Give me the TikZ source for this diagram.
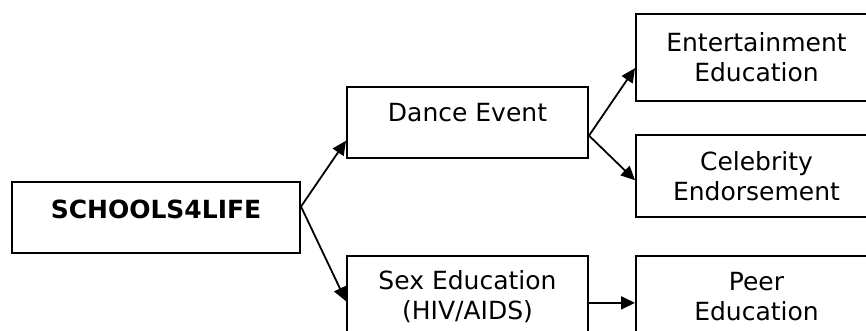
\documentclass[tikz,border=0pt]{standalone}
\usepackage{fontspec}
\setmainfont{DejaVu Sans}
\usetikzlibrary{arrows.meta,calc}

\begin{document}
\begin{tikzpicture}[x=1pt, y=-1pt, >={Triangle[length=14pt,width=13pt]}, font=\fontsize{25}{30}\selectfont,
	   b/.style={draw, line width=2pt, inner sep=0pt, minimum width=241pt, align=center},
	   a/.style={->, line width=1.8pt}]
	  \useasboundingbox (0,0) rectangle (866,331);
	  \clip (0,0) rectangle (866,331);
	  \node[b, minimum width=288pt, text height=36pt, text depth=35pt, font=\fontsize{25}{30}\selectfont\bfseries] (s4l) at (156,217.5) {SCHOOLS4LIFE};
	  \node[b, text height=35pt, text depth=36pt] (de) at (467.5,122.5) {Dance Event};
	  \node[b, minimum height=82pt] (sex) at (467.5,297) {Sex Education\\(HIV/AIDS)};
	  \node[b, minimum height=87pt] (ent) at (756.5,57.5) {Entertainment\\Education};
	  \node[b, minimum height=82pt] (cel) at (756.5,176) {Celebrity\\Endorsement};
	  \node[b, minimum height=82pt] (peer) at (756.5,297) {Peer\\Education};
	  \draw[a] ($(s4l.north east)!.35!(s4l.south east)$) -- ($(de.north west)!.75!(de.south west)$);
	  \draw[a] ($(s4l.north east)!.35!(s4l.south east)$) -- ($(sex.north west)!.55!(sex.south west)$);
	  \draw[a] ($(de.north east)!.68!(de.south east)$) -- ($(ent.north west)!.62!(ent.south west)$);
	  \draw[a] ($(de.north east)!.68!(de.south east)$) -- ($(cel.north west)!.55!(cel.south west)$);
	  \draw[a] ($(sex.north east)!.57!(sex.south east)$) -- ($(peer.north west)!.57!(peer.south west)$);
	\end{tikzpicture}
\end{document}
